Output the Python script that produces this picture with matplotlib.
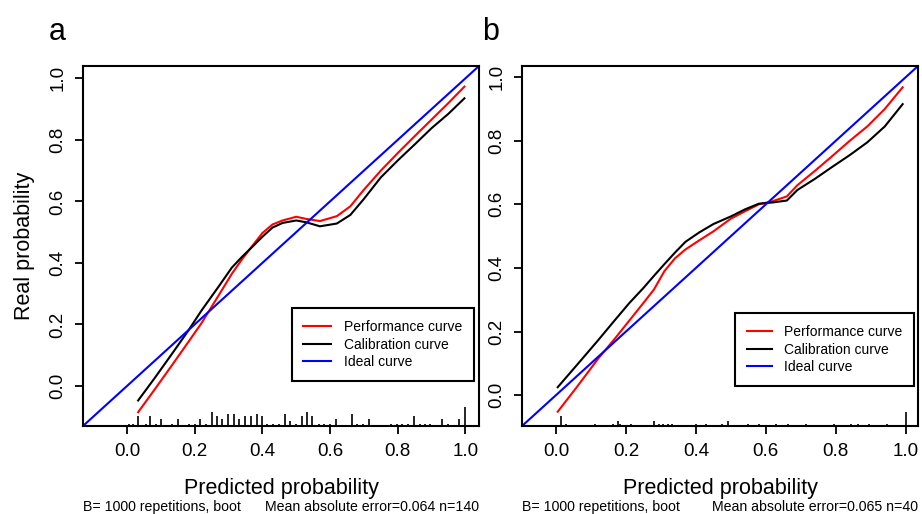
import matplotlib
matplotlib.use("Agg")
import matplotlib.pyplot as plt

plt.rcParams['font.family'] = ['Liberation Sans', 'DejaVu Sans']

# panel a (n=140)
x_a = [0.033, 0.08, 0.13, 0.18, 0.22, 0.27, 0.31, 0.34, 0.37, 0.40, 0.43, 0.46,
       0.50, 0.53, 0.57, 0.62, 0.66, 0.70, 0.75, 0.80, 0.85, 0.90, 0.95, 0.997]
perf_a = [-0.085, -0.014, 0.063, 0.141, 0.204, 0.293, 0.365, 0.412, 0.455, 0.497, 0.525, 0.538,
          0.550, 0.543, 0.536, 0.552, 0.584, 0.638, 0.700, 0.757, 0.812, 0.866, 0.920, 0.973]
calib_a = [-0.047, 0.023, 0.100, 0.178, 0.245, 0.322, 0.385, 0.420, 0.452, 0.485, 0.515, 0.530,
           0.538, 0.532, 0.519, 0.528, 0.556, 0.608, 0.678, 0.733, 0.785, 0.838, 0.885, 0.935]
rug_x_a = [0.006, 0.018, 0.032, 0.055, 0.068, 0.085, 0.101, 0.133, 0.150, 0.183, 0.201, 0.217,
           0.233, 0.252, 0.266, 0.281, 0.299, 0.316, 0.332, 0.349, 0.365, 0.383, 0.399, 0.414,
           0.431, 0.448, 0.466, 0.483, 0.499, 0.517, 0.532, 0.548, 0.566, 0.583, 0.601, 0.617,
           0.665, 0.680, 0.697, 0.715, 0.780, 0.797, 0.813, 0.829, 0.847, 0.866, 0.881, 0.896,
           0.932, 0.948, 0.982, 0.999]
rug_n_a = [1, 1, 4, 1, 4, 1, 3, 1, 3, 1, 1, 3,
           1, 6, 4, 3, 5, 5, 3, 4, 4, 5, 4, 1,
           1, 1, 5, 2, 1, 4, 6, 4, 1, 1, 1, 3,
           5, 1, 1, 3, 1, 1, 1, 1, 4, 1, 1, 1,
           3, 1, 3, 8]

# panel b (n=40)
x_b = [0.005, 0.06, 0.12, 0.17, 0.21, 0.25, 0.28, 0.31, 0.34, 0.37, 0.41, 0.45,
       0.50, 0.54, 0.58, 0.62, 0.66, 0.69, 0.74, 0.79, 0.84, 0.89, 0.94, 0.991]
perf_b = [-0.052, 0.026, 0.114, 0.180, 0.235, 0.290, 0.332, 0.390, 0.430, 0.458, 0.487, 0.515,
          0.555, 0.578, 0.600, 0.610, 0.625, 0.660, 0.705, 0.752, 0.800, 0.845, 0.900, 0.968]
calib_b = [0.025, 0.095, 0.172, 0.238, 0.290, 0.337, 0.375, 0.412, 0.448, 0.482, 0.512, 0.538,
           0.562, 0.584, 0.602, 0.606, 0.612, 0.645, 0.680, 0.718, 0.755, 0.795, 0.845, 0.915]
rug_x_b = [0.014, 0.029, 0.111, 0.162, 0.176, 0.183, 0.214, 0.279, 0.295, 0.305, 0.319, 0.333,
           0.400, 0.429, 0.476, 0.492, 0.548, 0.581, 0.629, 0.662, 0.714, 0.795, 0.843, 0.862,
           0.895, 0.946, 1.000]
rug_n_b = [4, 1, 1, 1, 2, 1, 1, 2, 1, 1, 1, 1,
           1, 1, 1, 2, 1, 1, 1, 1, 1, 1, 1, 1,
           1, 1, 6]

panels = [
    ("a", x_a, perf_a, calib_a, rug_x_a, rug_n_a, (-0.13, 1.04),
     "Mean absolute error=0.064 n=140", 0.090, (0.987, 0.125), 2.0),
    ("b", x_b, perf_b, calib_b, rug_x_b, rug_n_b, (-0.097, 1.035),
     "Mean absolute error=0.065 n=40", 0.5662, (0.990, 0.111), 1.8),
]

fig = plt.figure(figsize=(9.22, 5.14), dpi=100)

for tag, xs, perf, calib, rx, rn, lim, mae, left, leg_pos, hlen in panels:
    ax = fig.add_axes([left, 0.1712, 0.4295, 0.7004])
    ax.set_xlim(lim)
    ax.set_ylim(lim)

    ax.plot(xs, perf, color='red', lw=1.5, label='Performance curve')
    ax.plot(xs, calib, color='black', lw=1.5, label='Calibration curve')
    ax.plot(lim, lim, color='blue', lw=1.5, label='Ideal curve')

    # rug of predicted values along the bottom
    trans = ax.get_xaxis_transform()
    ax.vlines(rx, 0, [n * 0.0066 for n in rn], color='black', lw=1.2, transform=trans)

    ticks = [0.0, 0.2, 0.4, 0.6, 0.8, 1.0]
    ax.set_xticks(ticks)
    ax.set_yticks(ticks)
    ax.set_xticklabels(["%.1f" % t for t in ticks])
    ax.set_yticklabels(["%.1f" % t for t in ticks], rotation=90, va='center')
    ax.tick_params(length=6, width=1.3, labelsize=13.5, pad=6)
    for s in ax.spines.values():
        s.set_linewidth(1.5)

    ax.set_xlabel("Predicted probability", fontsize=15.5)
    ax.xaxis.set_label_coords(0.5, -0.145)
    if tag == "a":
        ax.set_ylabel("Real probability", fontsize=15.5)
        ax.yaxis.set_label_coords(-0.12, 0.5)

    ax.text(0.0, -0.226, "B= 1000 repetitions, boot", transform=ax.transAxes,
            ha='left', va='center', fontsize=10.2)
    ax.text(1.0, -0.226, mae, transform=ax.transAxes,
            ha='right', va='center', fontsize=10.2)

    ax.text(-0.065 if tag == "a" else -0.08, 1.095, tag, transform=ax.transAxes,
            ha='center', va='center', fontsize=22)

    leg = ax.legend(loc='lower right', bbox_to_anchor=leg_pos, borderaxespad=0,
                    fontsize=10, handlelength=hlen, handletextpad=0.9,
                    labelspacing=0.25, borderpad=0.85, fancybox=False,
                    edgecolor='black', framealpha=1)
    leg.get_frame().set_linewidth(1.5)

fig.savefig("out.png", dpi=100)
